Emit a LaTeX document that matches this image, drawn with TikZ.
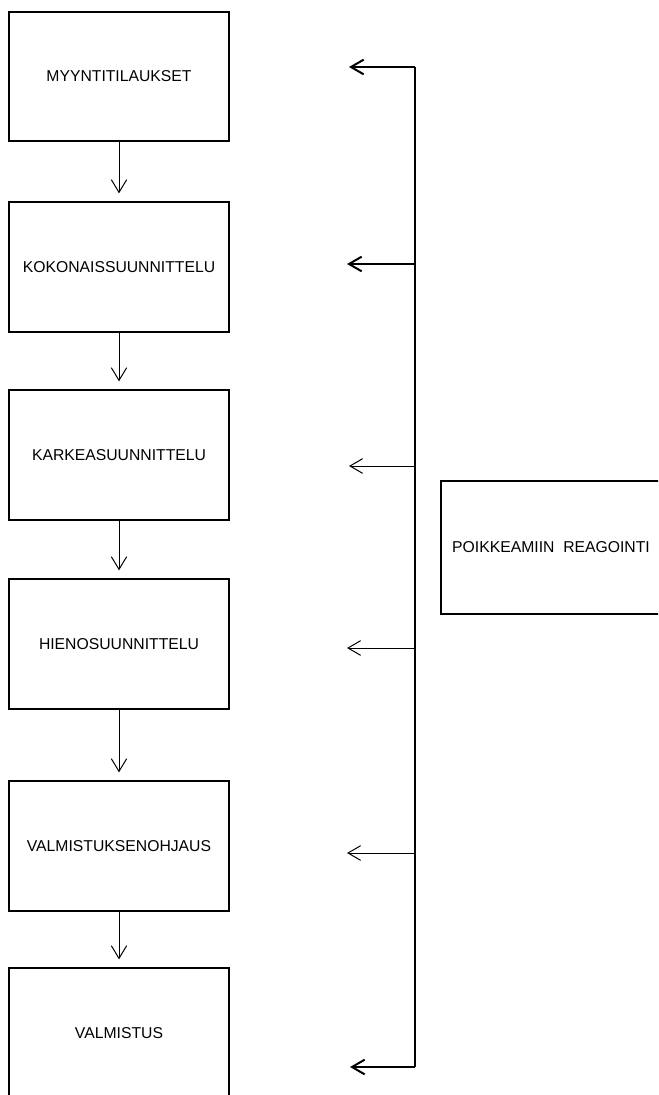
\documentclass[tikz,border=0pt]{standalone}
\usepackage{fontspec}
\setmainfont{Liberation Sans}
\usetikzlibrary{arrows.meta}
\begin{document}
\begin{tikzpicture}[x=0.75pt,y=-0.75pt,
  box/.style={draw,line width=1.5pt,minimum width=165pt,minimum height=97pt,
    inner sep=0pt,font=\fontsize{11.8}{13}\selectfont},
  flow/.style={-{Straight Barb[length=9.5pt,width=11.5pt]},line width=0.75pt,
    shorten >=6pt},
  back/.style={-{Straight Barb[length=9.5pt,width=11pt]},line width=0.75pt},
  bold/.style={back,line width=1.5pt}]
  \clip (0,0) rectangle (658,1095);
  \useasboundingbox (0,0) rectangle (658,1095);
  % process chain
  \node[box] (myynti)    at (119,76.5) {MYYNTITILAUKSET};
  \node[box] (kokonais)  at (119,267)  {KOKONAISSUUNNITTELU};
  \node[box] (karkea)    at (119,455)  {KARKEASUUNNITTELU};
  \node[box] (hieno)     at (119,644)  {HIENOSUUNNITTELU};
  \node[box] (ohjaus)    at (119,846)  {VALMISTUKSENOHJAUS};
  \node[box] (valmistus) at (119,1033) {VALMISTUS};
  \node[box,minimum height=100pt] (poikkeama) at (551,547.5) {POIKKEAMIIN\ \ REAGOINTI};
  \draw[flow] (myynti) -- (kokonais);
  \draw[flow] (kokonais) -- (karkea);
  \draw[flow] (karkea) -- (hieno);
  \draw[flow] (hieno) -- (ohjaus);
  \draw[flow] (ohjaus) -- (valmistus);
  % feedback line
  \coordinate (r1) at (415,67);   \coordinate (a1) at (349,67);
  \coordinate (r2) at (415,264);  \coordinate (a2) at (347,264);
  \coordinate (r3) at (415,466);  \coordinate (a3) at (349,466);
  \coordinate (r4) at (415,648);  \coordinate (a4) at (347,648);
  \coordinate (r5) at (415,853);  \coordinate (a5) at (347,853);
  \coordinate (r6) at (415,1067); \coordinate (a6) at (350,1067);
  \draw[line width=0.9pt] (r1) -- (r6);
  \draw[bold] (r1) -- (a1);
  \draw[bold] (r2) -- (a2);
  \draw[back] (r3) -- (a3);
  \draw[back] (r4) -- (a4);
  \draw[back] (r5) -- (a5);
  \draw[bold] (r6) -- (a6);
\end{tikzpicture}
\end{document}
